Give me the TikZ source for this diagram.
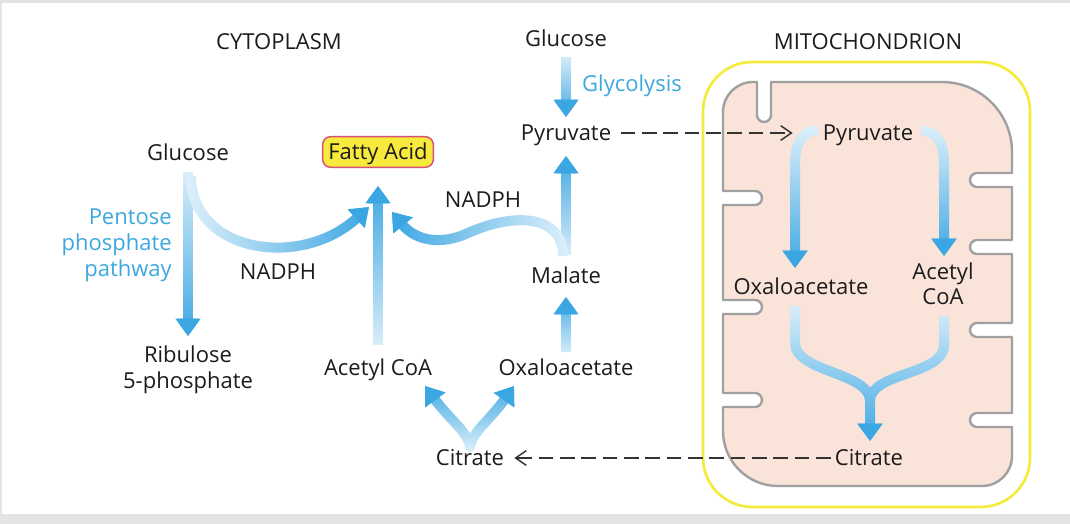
\documentclass[tikz,border=0pt]{standalone}
\usepackage{fontspec}
\setmainfont{Open Sans}
\usetikzlibrary{arrows.meta,fadings,calc}
\definecolor{ablue}{RGB}{58,166,226}
\definecolor{alight}{RGB}{222,240,251}
\definecolor{tblue}{RGB}{60,168,222}
\definecolor{memfill}{RGB}{250,228,217}
\definecolor{memline}{RGB}{160,160,160}
\definecolor{yel}{RGB}{244,236,60}
\definecolor{faboxfill}{RGB}{248,234,60}
\definecolor{faline}{RGB}{214,80,120}
\definecolor{framegray}{RGB}{228,228,228}
\definecolor{txt}{RGB}{28,28,28}
\tikzfading[name=fadeUp, top color=transparent!0, bottom color=transparent!100]
\tikzfading[name=fadeDown, top color=transparent!100, bottom color=transparent!0]
\tikzfading[name=fadeLeft, left color=transparent!0, right color=transparent!100]
\tikzfading[name=fadeRight, left color=transparent!100, right color=transparent!0]
\tikzset{
  fattip/.tip={Triangle[width=18pt,length=13pt,color=ablue]},
  fatbase/.style={line width=7.5pt, draw=alight, -fattip},
  fattop/.style={line width=7.5pt, draw=ablue, -fattip},
  lbl/.style={font=\fontsize{16.5}{19}\selectfont, text=txt, inner sep=3pt, text height=11.8pt, text depth=0pt},
  mlbl/.style={font=\fontsize{16.5}{19.5}\selectfont, text=txt, inner sep=0pt},
  faboxstyle/.style={lbl, fill=faboxfill, draw=faline, line width=1.1pt, rounded corners=6pt, minimum width=83pt, minimum height=23pt},
  dasharrow/.style={draw=black!80, line width=1.1pt, dash pattern=on 11pt off 5pt, -{Straight Barb[length=8pt,width=11pt]}},
}
\newcommand\fatarrow[3][]{\draw[fatbase,#1] #3; \draw[fattop,#1,path fading=#2] #3;}
\begin{document}
\begin{tikzpicture}[x=0.75pt,y=-0.75pt]
\useasboundingbox (0,0) rectangle (1070,524);
\fill[framegray] (0,0) rectangle (1070,524);
\fill[white] (2,3) rectangle (1070,514);
% mitochondrion
\draw[yel, line width=2pt, rounded corners=37pt] (703,62) rectangle (1030,507);
\draw[memline, fill=memfill, line width=1.8pt, line join=round]
  (771,82) -- (942,82) arc(-90:0:70)
  -- (1012,173) -- (977,173) arc(270:90:7) -- (1012,187)
  -- (1012,240) -- (977,240) arc(270:90:7) -- (1012,254)
  -- (1012,323) -- (977,323) arc(270:90:7) -- (1012,337)
  -- (1012,413) -- (977,413) arc(270:90:7) -- (1012,427)
  -- (1012,456) arc(0:90:30)
  -- (778,486) arc(90:180:55)
  -- (723,407) -- (755,407) arc(90:-90:7) -- (723,393)
  -- (723,314) -- (755,314) arc(90:-90:7) -- (723,300)
  -- (723,205) -- (755,205) arc(90:-90:7) -- (723,191)
  -- (723,112) arc(180:270:30)
  -- (757,82) -- (757,115) arc(180:0:7) -- cycle;
% labels
\node[lbl] (cyto) at (279,42) {CYTOPLASM};
\node[lbl] (mito) at (868,42) {MITOCHONDRION};
\node[lbl] (glc1) at (566,39) {Glucose};
\node[lbl, text=tblue] (glyc) at (632,84) {Glycolysis};
\node[lbl] (pyr1) at (566,133) {Pyruvate};
\node[faboxstyle] (fa) at (378,152) {Fatty Acid};
\node[lbl] (glc2) at (188,153) {Glucose};
\node[mlbl, text=tblue, align=right, anchor=north east] (ppp) at (172,209) {Pentose\\phosphate\\pathway};
\node[lbl] (nadph1) at (278,272) {NADPH};
\node[lbl] (nadph2) at (483,200) {NADPH};
\node[mlbl, align=center, anchor=north] (rib) at (188,346) {Ribulose\\5-phosphate};
\node[lbl] (mal) at (566,276) {Malate};
\node[lbl] (acc1) at (378,368) {Acetyl CoA};
\node[lbl] (oaa1) at (566,368) {Oxaloacetate};
\node[lbl] (cit1) at (470,458) {Citrate};
\node[lbl] (pyr2) at (868,133) {Pyruvate};
\node[lbl] (oaa2) at (801,287) {Oxaloacetate};
\node[mlbl, align=center, anchor=north, font=\fontsize{16.5}{18.75}\selectfont] (acc2) at (943,263) {Acetyl\\CoA};
\node[lbl] (cit2) at (869,458) {Citrate};
% fat arrows
\fatarrow{fadeDown}{(566,57) -- (566,117)}
\fatarrow{fadeUp}{(566,255) -- (566,156)}
\fatarrow{fadeUp}{(566,352) -- (566,297)}
\fatarrow{fadeUp}{(378,345) -- (378,186)}
\fatarrow{fadeDown}{(188,172) -- (188,336)}
\fatarrow{fadeRight}{(191,176) .. controls (191,252) and (300,270) .. (369,207)}
\fatarrow{fadeLeft}{(563,256) .. controls (563,215) and (515,212) .. (468,233) .. controls (440,246) and (415,240) .. (392,212)}
\fatarrow[fattip-fattip, line join=round]{fadeUp}{(425,386) .. controls (450,420) and (468,432) .. (470,447) .. controls (472,432) and (490,420) .. (514,386)}
\fatarrow{fadeDown}{(818,130) .. controls (800,132) and (795,145) .. (795,165) -- (795,268)}
\fatarrow{fadeDown}{(921,130) .. controls (939,132) and (944,145) .. (944,165) -- (944,256)}
\fatarrow{fadeDown}{(944,316) -- (944,345) .. controls (944,375) and (872,372) .. (870,400) (795,306) -- (795,343) .. controls (795,372) and (868,372) .. (870,400) -- (870,441)}
% dashed arrows
\draw[dasharrow, shorten <=4pt] (pyr1.east) -- ($(pyr2.west)+(-26,0)$);
\draw[dasharrow] (cit2.west) -- ($(cit1.east)+(6,0)$);
\end{tikzpicture}
\end{document}
